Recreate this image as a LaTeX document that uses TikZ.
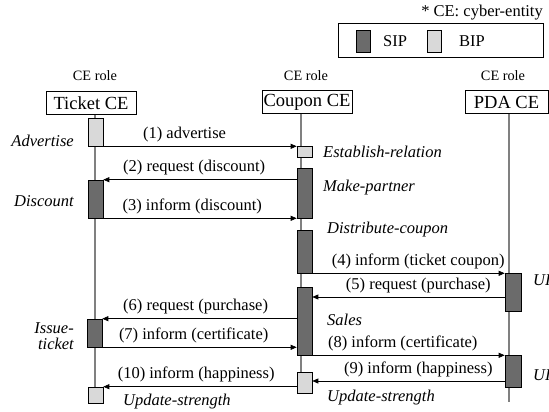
\documentclass[tikz,border=0pt]{standalone}
\usepackage{fontspec}
\setmainfont{Liberation Serif}
\usetikzlibrary{arrows.meta,calc}
\definecolor{sipc}{HTML}{6B6B6B}
\definecolor{bipc}{HTML}{D9D9D9}
\definecolor{lifec}{HTML}{808080}
\tikzset{
  lifeline/.style={draw=lifec, line width=2.4pt},
  cebox/.style={draw=black, line width=0.7pt, fill=white, inner sep=0pt, minimum height=23pt, font=\fontsize{18.5}{20}\selectfont},
  actbox/.style={draw=black, line width=0.6pt, inner sep=0pt, minimum width=15pt},
  sipbox/.style={actbox, fill=sipc},
  bipbox/.style={actbox, fill=bipc},
  msg/.style={draw=black, line width=0.7pt, -{Triangle[length=6pt,width=5pt]}},
  mlabel/.style={above, inner sep=0pt, yshift=4pt, font=\fontsize{16.5}{18}\selectfont},
  rolelabel/.style={inner sep=0pt, font=\fontsize{14.3}{16}\selectfont},
  actlabel/.style={inner sep=0pt, font=\fontsize{16.5}{15.5}\selectfont\itshape},
  plain/.style={inner sep=0pt, font=\fontsize{16.5}{18}\selectfont},
}
\begin{document}
\begin{tikzpicture}[x=1pt,y=-1pt]
\useasboundingbox (0,0) rectangle (549,412);
% legend
\node[plain, anchor=east] (note) at (543,13) {* CE: cyber-entity};
\draw[line width=0.7pt] (338,23) rectangle (543,57);
\node[sipbox, minimum height=22pt, minimum width=14pt] (lsip) at (363,41) {};
\node[plain, anchor=west] (lsiptxt) at (383,41) {SIP};
\node[bipbox, minimum height=22pt, minimum width=14pt] (lbip) at (434,41) {};
\node[plain, anchor=west] (lbiptxt) at (459,41) {BIP};
% roles
\node[rolelabel] (r1) at (95,76) {CE role};
\node[rolelabel] (r2) at (306,76) {CE role};
\node[rolelabel] (r3) at (503,76) {CE role};
\node[cebox, minimum width=90pt] (tce) at (91,103) {Ticket CE};
\node[cebox, minimum width=90pt] (cce) at (307,102) {Coupon CE};
\node[cebox, minimum width=83pt] (pce) at (506.5,102) {PDA CE};
% lifelines
\coordinate (tend) at (95,398);
\coordinate (cend) at (301,393);
\coordinate (pend) at (509,402);
\draw[lifeline] (tce.south -| tend) -- (tend);
\draw[lifeline] (cce.south -| cend) -- (cend);
\draw[lifeline] (pce.south -| pend) -- (pend);
% activation boxes: ticket
\node[bipbox, minimum height=28pt] (t1) at (95.5,132) {};
\node[sipbox, minimum height=38pt] (t2) at (95.5,199) {};
\node[sipbox, minimum height=28pt] (t3) at (94.5,333) {};
\node[bipbox, minimum height=16pt] (t4) at (95.5,395) {};
% coupon
\node[bipbox, minimum height=11pt] (c1) at (304.5,151.5) {};
\node[sipbox, minimum height=50pt] (c2) at (304.5,193) {};
\node[sipbox, minimum height=43pt] (c3) at (304.5,251.5) {};
\node[sipbox, minimum height=68pt] (c4) at (304.5,321) {};
\node[bipbox, minimum height=21pt] (c5) at (304.5,382.5) {};
% pda
\node[sipbox, minimum height=38pt, minimum width=16pt] (p1) at (513,292) {};
\node[sipbox, minimum height=32pt, minimum width=16pt] (p2) at (513,371) {};
\coordinate (m5s) at (505,297);
\coordinate (m9s) at (505,381);
% messages
\draw[msg] (t1.south east) -- node[mlabel, pos=0.42] {(1) advertise} (t1.south east -| c1.west);
\draw[msg] (c2.west |- t2.north) -- node[mlabel, pos=0.53] {(2) request (discount)} (t2.north east);
\draw[msg] (t2.south east) -- node[mlabel, pos=0.46] {(3) inform (discount)} (t2.south east -| c2.west);
\draw[msg] (c3.south east) -- node[mlabel, pos=0.55] {(4) inform (ticket coupon)} (c3.south east -| p1.west);
\draw[msg] (m5s) -- node[mlabel, pos=0.45] {(5) request (purchase)} (m5s -| c4.east);
\draw[msg] (c4.west |- t3.north) -- node[mlabel, pos=0.52] {(6) request (purchase)} (t3.north east);
\draw[msg] (t3.south east) -- node[mlabel, pos=0.47] {(7) inform (certificate)} (t3.south east -| c4.west);
\draw[msg] (c4.south east) -- node[mlabel, pos=0.47] {(8) inform (certificate)} (c4.south east -| p2.west);
\draw[msg] (m9s) -- node[mlabel, pos=0.45] {(9) inform (happiness)} (m9s -| c5.east);
\draw[msg] (c5.west |- t4.north) -- node[mlabel, pos=0.52] {(10) inform (happiness)} (t4.north east);
% activity labels
\node[actlabel, anchor=east] (la1) at (74,141) {Advertise};
\node[actlabel, anchor=east] (la2) at (74,201) {Discount};
\node[actlabel, anchor=east, align=right] (la3) at (74,336) {Issue-\\ticket};
\node[actlabel, anchor=west] (la4) at (123,402) {Update-strength};
\node[actlabel, anchor=west] (lb1) at (323,152) {Establish-relation};
\node[actlabel, anchor=west] (lb2) at (323,188) {Make-partner};
\node[actlabel, anchor=west] (lb3) at (327,230) {Distribute-coupon};
\node[actlabel, anchor=west] (lb4) at (327,320) {Sales};
\node[actlabel, anchor=west] (lb5) at (327,398) {Update-strength};
\node[actlabel, anchor=west] (lc1) at (533,280) {UI};
\node[actlabel, anchor=west] (lc2) at (533,375) {UI};
\end{tikzpicture}
\end{document}
